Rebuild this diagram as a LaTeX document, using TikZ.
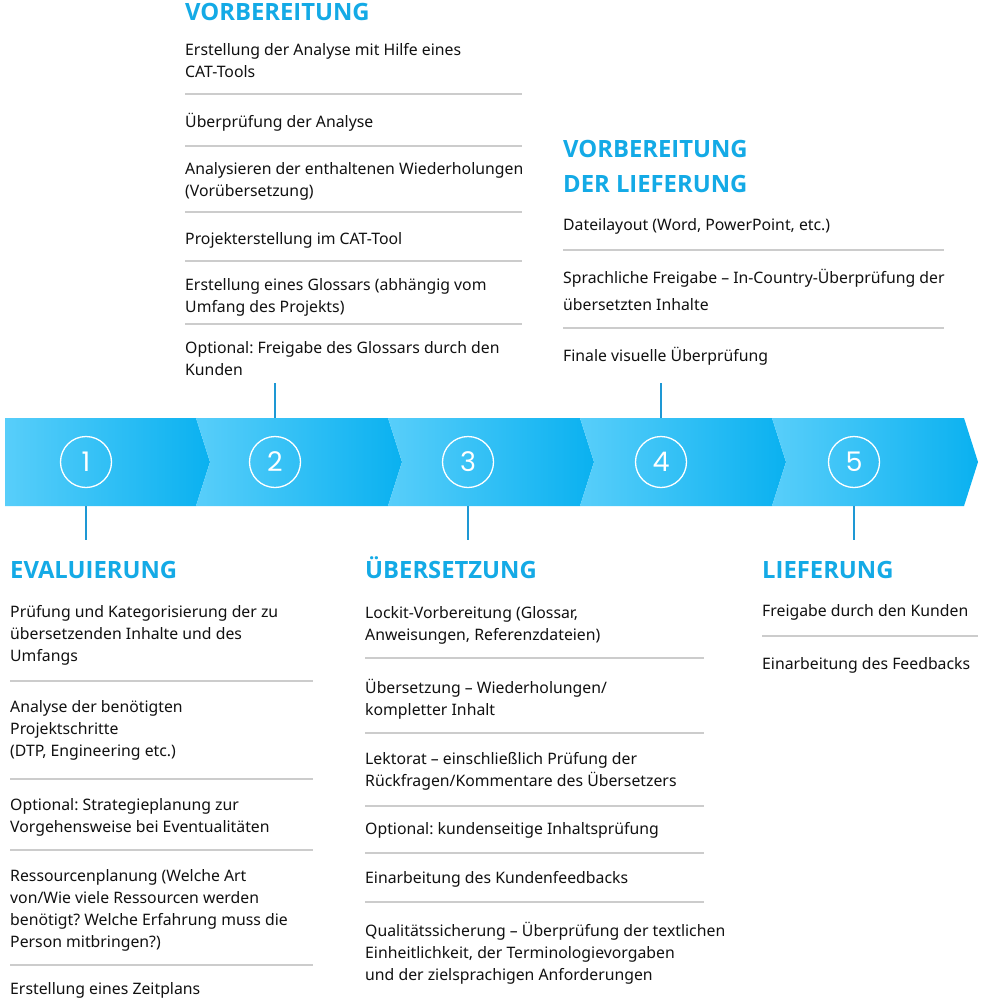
\documentclass[tikz,border=0pt]{standalone}
\usepackage{fontspec}
\setmainfont{Noto Sans}
\newfontfamily\headfont{Open Sans}
\newfontfamily\numfont{Poppins}
\definecolor{headblue}{RGB}{20,170,230}
\definecolor{connc}{RGB}{30,152,212}
\definecolor{rulec}{RGB}{204,204,204}
\definecolor{textc}{RGB}{17,17,17}
\definecolor{bandl}{RGB}{88,206,250}
\definecolor{bandr}{RGB}{10,177,240}
\newcommand\st{\rule{0pt}{16bp}}
\newcommand\sth{\rule{0pt}{20bp}}
\frenchspacing
\begin{document}
\begin{tikzpicture}[x=1bp,y=-1bp,
  head/.style={anchor=base west, inner sep=0pt, text=headblue, font=\headfont\fontsize{23.8bp}{35bp}\selectfont\bfseries},
  headml/.style={anchor=north west, inner sep=0pt, align=left, text=headblue, font=\headfont\fontsize{23.8bp}{35bp}\selectfont\bfseries},
  item/.style={anchor=north west, inner sep=0pt, align=left, text=textc, font=\frenchspacing\fontsize{15.8bp}{22bp}\selectfont},
  sep/.style={draw=rulec, line width=1.4bp},
  conn/.style={draw=connc, line width=2bp},
  numc/.style={circle, draw=white, line width=1.3bp, minimum size=51bp, inner sep=0pt, text=white, font=\numfont\fontsize{27bp}{27bp}\selectfont}
]
\useasboundingbox[fill=white] (0,0) rectangle (986,1002);

% arrow band
\shade[left color=bandl, right color=bandr] (5,418) -- (196,418) -- (210,462) -- (196,506) -- (5,506) -- cycle;
\foreach \L in {196,388,580,772}{
  \pgfmathsetmacro\R{\L+192}
  \shade[left color=bandl, right color=bandr] (\L,418) -- (\R,418) -- (\R+14,462) -- (\R,506) -- (\L,506) -- (\L+14,462) -- cycle;
}

% numbered circles
\node[numc] (n1) at (86,462) {1};
\node[numc] (n2) at (275,462) {2};
\node[numc] (n3) at (468,462) {3};
\node[numc] (n4) at (661,462) {4};
\node[numc] (n5) at (854,462) {5};

% connectors
\coordinate (t2a) at (275,383); \coordinate (t2b) at (275,418);
\coordinate (t4a) at (661,383); \coordinate (t4b) at (661,418);
\coordinate (b1a) at (86,506);  \coordinate (b1b) at (86,540);
\coordinate (b3a) at (468,506); \coordinate (b3b) at (468,540);
\coordinate (b5a) at (854,506); \coordinate (b5b) at (854,540);
\draw[conn] (t2a) -- (t2b);
\draw[conn] (t4a) -- (t4b);
\draw[conn] (b1a) -- (b1b);
\draw[conn] (b3a) -- (b3b);
\draw[conn] (b5a) -- (b5b);

% ---- column 2: VORBEREITUNG
\node[head] (h2) at (185,20) {VORBEREITUNG};
\node[item] (v1) at (185,55-16) {\st Erstellung der Analyse mit Hilfe eines\\CAT-Tools};
\draw[sep] (185,94) -- (522,94);
\node[item] (v2) at (185,127-16) {\st Überprüfung der Analyse};
\draw[sep] (185,146) -- (522,146);
\node[item] (v3) at (185,174-16) {\st Analysieren der enthaltenen Wiederholungen\\(Vorübersetzung)};
\draw[sep] (185,212) -- (522,212);
\node[item] (v4) at (185,244-16) {\st Projekterstellung im CAT-Tool};
\draw[sep] (185,261) -- (522,261);
\node[item] (v5) at (185,290-16) {\st Erstellung eines Glossars (abhängig vom\\Umfang des Projekts)};
\draw[sep] (185,324) -- (522,324);
\node[item] (v6) at (185,353-16) {\st Optional: Freigabe des Glossars durch den\\Kunden};

% ---- column 4: VORBEREITUNG DER LIEFERUNG
\node[headml] (h4) at (563,157-20) {\sth VORBEREITUNG\\DER LIEFERUNG};
\node[item] (l1) at (563,230-16) {\st Dateilayout (Word, PowerPoint, etc.)};
\draw[sep] (563,250) -- (944,250);
\node[item, font=\frenchspacing\fontsize{15.8bp}{27bp}\selectfont] (l2) at (563,283-16) {\st Sprachliche Freigabe – In-Country-Überprüfung der\\übersetzten Inhalte};
\draw[sep] (563,328) -- (944,328);
\node[item] (l3) at (563,361-16) {\st Finale visuelle Überprüfung};

% ---- column 1: EVALUIERUNG
\node[head] (h1) at (10,578) {EVALUIERUNG};
\node[item] (e1) at (10,617-16) {\st Prüfung und Kategorisierung der zu\\übersetzenden Inhalte und des\\Umfangs};
\draw[sep] (10,681) -- (313,681);
\node[item] (e2) at (10,712-16) {\st Analyse der benötigten\\Projektschritte\\(DTP, Engineering etc.)};
\draw[sep] (10,779) -- (313,779);
\node[item] (e3) at (10,810-16) {\st Optional: Strategieplanung zur\\Vorgehensweise bei Eventualitäten};
\draw[sep] (10,850) -- (313,850);
\node[item] (e4) at (10,881-16) {\st Ressourcenplanung (Welche Art\\von/Wie viele Ressourcen werden\\benötigt? Welche Erfahrung muss die\\Person mitbringen?)};
\draw[sep] (10,965) -- (313,965);
\node[item] (e5) at (10,994-16) {\st Erstellung eines Zeitplans};

% ---- column 3: ÜBERSETZUNG
\node[head] (h3) at (365,578) {ÜBERSETZUNG};
\node[item] (u1) at (365,618-16) {\st Lockit-Vorbereitung (Glossar,\\Anweisungen, Referenzdateien)};
\draw[sep] (365,658) -- (704,658);
\node[item] (u2) at (365,693-16) {\st Übersetzung – Wiederholungen/\\kompletter Inhalt};
\draw[sep] (365,733) -- (704,733);
\node[item] (u3) at (365,764-16) {\st Lektorat – einschließlich Prüfung der\\Rückfragen/Kommentare des Übersetzers};
\draw[sep] (365,806) -- (704,806);
\node[item] (u4) at (365,834-16) {\st Optional: kundenseitige Inhaltsprüfung};
\draw[sep] (365,853) -- (704,853);
\node[item] (u5) at (365,883-16) {\st Einarbeitung des Kundenfeedbacks};
\draw[sep] (365,902) -- (704,902);
\node[item] (u6) at (365,936-16) {\st Qualitätssicherung – Überprüfung der textlichen\\Einheitlichkeit, der Terminologievorgaben\\und der zielsprachigen Anforderungen};

% ---- column 5: LIEFERUNG
\node[head] (h5) at (762,578) {LIEFERUNG};
\node[item] (f1) at (762,616-16) {\st Freigabe durch den Kunden};
\draw[sep] (762,636) -- (978,636);
\node[item] (f2) at (762,669-16) {\st Einarbeitung des Feedbacks};
\end{tikzpicture}
\end{document}
